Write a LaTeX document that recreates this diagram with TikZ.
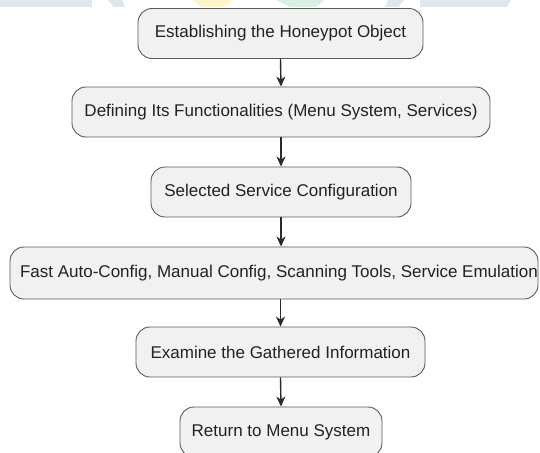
\documentclass[tikz,border=0pt]{standalone}
\usepackage{fontspec}
\setmainfont{Liberation Sans}
\usetikzlibrary{arrows.meta}
\definecolor{boxfill}{HTML}{F1F1F1}
\definecolor{boxline}{HTML}{5A5A5A}
\definecolor{txt}{HTML}{222222}
\definecolor{arr}{HTML}{2A2A2A}
\definecolor{wmgray}{HTML}{DFE7EA}
\definecolor{wmyellow}{HTML}{FCF5C9}
\definecolor{wmgreen}{HTML}{D9EFE4}
\tikzset{
  stepbox/.style={draw=boxline, line width=0.9pt, fill=boxfill, rounded corners=14pt,
    minimum height=50pt, inner sep=0pt, text=txt,
    font=\fontsize{17}{20}\selectfont},
  flow/.style={draw=arr, line width=1.4pt, -{Stealth[length=10pt,width=9pt,inset=3pt]}}
}
\begin{document}
\begin{tikzpicture}[x=1pt,y=-1pt]
\useasboundingbox (0,0) rectangle (540,452);
\fill[white] (0,0) rectangle (540,452);
% faint watermark shapes at the top edge
\fill[wmgray] (0,0) -- (92,0) -- (92,7) -- (0,7) -- cycle;
\fill[wmgray] (108,0) -- (122,0) -- (125,7) -- (114,7) -- cycle;
\fill[wmyellow] (193,0) -- (234,0) -- (224,7) -- (202,7) -- cycle;
\fill[wmgreen] (276,0) -- (324,0) -- (316,7) -- (290,7) -- cycle;
\fill[wmgray] (388,0) -- (404,0) -- (398,7) -- (385,7) -- cycle;
\fill[wmgray] (420,0) -- (511,0) -- (507,7) -- (420,7) -- cycle;

\node[stepbox, minimum width=285pt] (b1) at (280.5,33.5) {Establishing the Honeypot Object};
\node[stepbox, minimum width=418pt] (b2) at (281,112) {Defining Its Functionalities (Menu System, Services)};
\node[stepbox, minimum width=260pt] (b3) at (281,192) {Selected Service Configuration};
\node[stepbox, minimum width=528pt, minimum height=52pt] (b4) at (274,273) {\hspace{10pt}Fast Auto-Config, Manual Config, Scanning Tools, Service Emulation};
\node[stepbox, minimum width=289pt] (b5) at (280.5,352) {Examine the Gathered Information};
\node[stepbox, minimum width=202pt] (b6) at (281,432) {Return to Menu System};

\draw[flow] (b1.south) -- (b2.north);
\draw[flow] (b2.south) -- (b3.north);
\draw[flow] (b3.south) -- (b3.south |- b4.north);
\draw[flow] (b5.north |- b4.south) -- (b5.north);
\draw[flow] (b5.south) -- (b6.north);
\end{tikzpicture}
\end{document}
